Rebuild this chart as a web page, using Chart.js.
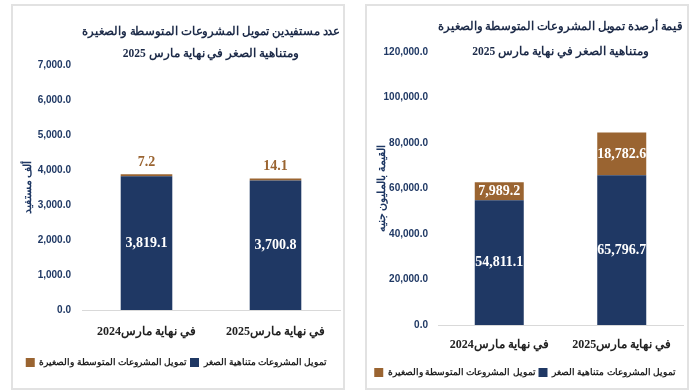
<!DOCTYPE html>
<html>
<head>
<meta charset="utf-8">
<script src="https://cdn.jsdelivr.net/npm/chart.js@4"></script>
<style>
  body { margin: 0; background: #fff; width: 690px; height: 392px; overflow: hidden; position: relative; }
  .panel { position: absolute; top: 4px; height: 386px; box-sizing: border-box; border: 2px solid #e2e2e2; background: #fff; }
  #leftPanel { left: 11px; width: 334px; }
  #rightPanel { left: 365px; width: 324px; }
  canvas { display: block; direction: rtl; }
</style>
</head>
<body>
<div class="panel" id="leftPanel"><canvas id="beneficiariesChart" width="330" height="382"></canvas></div>
<div class="panel" id="rightPanel"><canvas id="balancesChart" width="320" height="382"></canvas></div>
<script>
const categories = ['في نهاية مارس2024', 'في نهاية مارس2025']
const microLabel = 'تمويل المشروعات متناهية الصغر'
const smeLabel = 'تمويل المشروعات المتوسطة والصغيرة'

// thousand beneficiaries
const beneficiariesMicro = [3819.1, 3700.8]
const beneficiariesSme = [7.2, 14.1]
const beneficiariesTicks = { max: 7000, step: 1000 }

// million EGP
const balancesMicro = [54811.1, 65796.7]
const balancesSme = [7989.2, 18782.6]
const balancesTicks = { max: 120000, step: 20000 }

const navy = '#1f3864'
const brown = '#9a6431'
const serif = "'Liberation Serif', serif"
const sans = "'Liberation Sans', sans-serif"

Chart.defaults.animation = false

function fmt(v) {
  return v.toLocaleString('en-US', { minimumFractionDigits: 1, maximumFractionDigits: 1 })
}

const barLabels = {
  id: 'barLabels',
  afterDatasetsDraw(chart) {
    const ctx = chart.ctx
    chart.data.datasets.forEach((ds, i) => {
      const meta = chart.getDatasetMeta(i)
      meta.data.forEach((bar, j) => {
        const y = ds.labelPos === 'above' ? bar.y - 12 : (bar.y + bar.base) / 2
        ctx.save()
        ctx.font = 'bold 14px ' + serif
        ctx.fillStyle = ds.labelColor
        ctx.textAlign = 'center'
        ctx.textBaseline = 'middle'
        ctx.fillText(fmt(ds.data[j]), bar.x, y)
        ctx.restore()
      })
    })
  }
}

function makeChart(id, cfg) {
  return new Chart(document.getElementById(id), {
    type: 'bar',
    data: {
      labels: categories,
      datasets: [
        {
          label: microLabel, data: cfg.micro, backgroundColor: navy,
          barPercentage: cfg.barPct, categoryPercentage: 1,
          labelPos: 'center', labelColor: '#ffffff'
        },
        {
          label: smeLabel, data: cfg.sme, backgroundColor: brown,
          barPercentage: cfg.barPct, categoryPercentage: 1, minBarLength: 2,
          labelPos: cfg.smePos, labelColor: cfg.smeColor
        }
      ]
    },
    options: {
      responsive: false,
      layout: { padding: cfg.padding },
      scales: {
        x: {
          stacked: true,
          grid: { display: false, drawTicks: false },
          border: { display: true, color: '#d9d9d9', width: 1 },
          ticks: {
            font: { family: serif, size: 12, weight: 'bold' }, color: '#222222',
            padding: cfg.xPad, maxRotation: 0, minRotation: 0, autoSkip: false
          },
          afterFit: s => { s.height = cfg.xHeight }
        },
        y: {
          stacked: true,
          min: 0,
          max: cfg.ticks.max,
          grid: { display: false, drawTicks: false },
          border: { display: false },
          ticks: {
            stepSize: cfg.ticks.step,
            font: { family: sans, size: 10, weight: 'bold' },
            color: navy,
            padding: cfg.yPad,
            callback: v => fmt(v)
          },
          title: {
            display: true, text: cfg.yTitle, color: navy, padding: { top: cfg.yTitlePad },
            font: { family: serif, size: 10.5, weight: 'bold', lineHeight: 1.2 }
          },
          afterFit: s => { s.width = cfg.yWidth }
        }
      },
      plugins: {
        title: {
          display: true,
          text: cfg.title,
          fullSize: false,
          color: '#1c2a48',
          font: { family: serif, size: 11.5, weight: 'bold', lineHeight: cfg.titleLine },
          padding: cfg.titlePad
        },
        legend: {
          position: 'bottom',
          reverse: true,
          labels: {
            boxWidth: 9, boxHeight: 9, padding: 3,
            color: '#222222',
            font: { family: serif, size: 9, weight: 'bold' }
          }
        },
        tooltip: { enabled: false }
      }
    },
    plugins: [barLabels]
  })
}

makeChart('beneficiariesChart', {
  micro: beneficiariesMicro,
  sme: beneficiariesSme,
  ticks: beneficiariesTicks,
  barPct: 0.4,
  smePos: 'above',
  smeColor: brown,
  yTitle: 'ألف مستفيد',
  yTitlePad: 8.7,
  title: ['عدد مستفيدين تمويل المشروعات المتوسطة والصغيرة', 'ومتناهية الصغر في نهاية مارس 2025'],
  titleLine: 22 / 11.5,
  titlePad: { top: 15, bottom: 0 },
  padding: { left: 0, right: 3, top: 0, bottom: 11 },
  yWidth: 69,
  yPad: 11,
  xPad: 15,
  xHeight: 45
})

makeChart('balancesChart', {
  micro: balancesMicro,
  sme: balancesSme,
  ticks: balancesTicks,
  barPct: 0.4,
  smePos: 'center',
  smeColor: '#ffffff',
  yTitle: 'القيمة بالمليون جنيه',
  yTitlePad: 8.7,
  title: ['قيمة أرصدة تمويل المشروعات المتوسطة والصغيرة', 'ومتناهية الصغر في نهاية مارس 2025'],
  titleLine: 25 / 11.5,
  titlePad: { top: 8.5, bottom: -12.5 },
  padding: { left: 0, right: 4, top: 0, bottom: 1 },
  yWidth: 71,
  yPad: 10,
  xPad: 13,
  xHeight: 40
})
</script>
</body>
</html>
